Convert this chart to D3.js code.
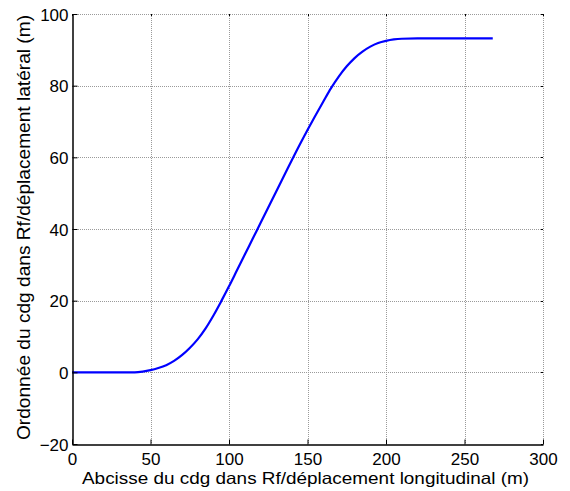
<!DOCTYPE html>
<html>
<head>
<meta charset="utf-8">
<script src="https://cdn.jsdelivr.net/npm/d3@7"></script>
<style>
  body { margin: 0; background: #fff; }
  svg { display: block; }
  text { font-family: "Liberation Sans", Arial, sans-serif; fill: #000; }
</style>
</head>
<body>
<svg id="chart" width="570" height="491"></svg>
<script>
const xData = [0, 10, 20, 30, 40, 45, 50, 55, 60, 65, 70, 75, 80, 85, 90, 95, 100, 105, 110, 115, 120, 130, 140, 150, 160, 165, 170, 175, 180, 185, 190, 195, 200, 205, 210, 220, 230, 240, 250, 260, 268];
const yData = [0, 0, 0, 0, 0, 0.2, 0.6, 1.2, 2, 3.2, 4.8, 6.8, 9.2, 12.2, 15.8, 19.8, 24, 28.4, 32.8, 37.2, 41.6, 50.4, 59.2, 67.6, 75.5, 79.3, 82.6, 85.4, 87.7, 89.5, 90.9, 91.9, 92.5, 92.9, 93.1, 93.2, 93.2, 93.2, 93.2, 93.2, 93.2];
const xTicks = [0, 50, 100, 150, 200, 250, 300];
const yTicks = [-20, 0, 20, 40, 60, 80, 100];
const xTitle = "Abcisse du cdg dans Rf/déplacement longitudinal (m)";
const yTitle = "Ordonnée du cdg dans Rf/déplacement latéral (m)";

const svg = d3.select("#chart");
const L = 72, R = 543, T = 14, B = 444;
const x = d3.scaleLinear().domain([0, 300]).range([L, R]);
const y = d3.scaleLinear().domain([-20, 100]).range([B, T]);

// grid
const grid = svg.append("g").attr("stroke", "#9a9a9a").attr("stroke-width", 1).attr("stroke-dasharray", "1,1");
xTicks.forEach(t => {
  if (t === 0) return;
  grid.append("line").attr("x1", Math.round(x(t)) + 0.5).attr("x2", Math.round(x(t)) + 0.5).attr("y1", T).attr("y2", B);
});
yTicks.forEach(t => {
  if (t === -20) return;
  grid.append("line").attr("x1", L).attr("x2", R).attr("y1", Math.round(y(t)) + 0.5).attr("y2", Math.round(y(t)) + 0.5);
});

// curve
const line = d3.line().x((d, i) => x(xData[i])).y(d => y(d)).curve(d3.curveMonotoneX);
svg.append("path").datum(yData).attr("d", line)
  .attr("fill", "none").attr("stroke", "#0000ff").attr("stroke-width", 2.2)
  .attr("stroke-linejoin", "round").attr("stroke-linecap", "butt");

// axes
const xAxis = d3.axisBottom(x).tickValues(xTicks).tickSizeInner(-5).tickSizeOuter(0).tickPadding(10);
const yAxis = d3.axisLeft(y).tickValues(yTicks).tickSizeInner(-5).tickSizeOuter(0).tickPadding(8);
const gx = svg.append("g").attr("transform", `translate(0,${B + 0.5})`).call(xAxis);
const gy = svg.append("g").attr("transform", `translate(${L + 0.5},0)`).call(yAxis);
[gx, gy].forEach(g => {
  g.select(".domain").attr("stroke", "#000").attr("stroke-width", 1.5);
  g.selectAll(".tick line").attr("stroke", "#000").attr("stroke-width", 1);
  g.selectAll(".tick text").attr("font-size", 17).attr("font-family", "Liberation Sans, Arial, sans-serif").attr("fill", "#000");
});
gx.selectAll(".tick text").attr("dy", null).attr("y", 20.5);
gy.selectAll(".tick text").attr("x", -4).attr("dy", "0.36em");

// small tick marks on top and right edges
const edge = svg.append("g").attr("stroke", "#000").attr("stroke-width", 1);
xTicks.forEach(t => {
  edge.append("line").attr("x1", Math.round(x(t)) + 0.5).attr("x2", Math.round(x(t)) + 0.5).attr("y1", T).attr("y2", T + 2);
});
yTicks.forEach(t => {
  edge.append("line").attr("x1", R - 2).attr("x2", R).attr("y1", Math.round(y(t)) + 0.5).attr("y2", Math.round(y(t)) + 0.5);
});

// titles
svg.append("text").attr("x", 82).attr("y", 483.5)
  .attr("font-size", 16.5).attr("textLength", 447).attr("lengthAdjust", "spacingAndGlyphs").text(xTitle);
svg.append("text").attr("transform", `translate(30,440) rotate(-90)`)
  .attr("font-size", 18).attr("textLength", 425).attr("lengthAdjust", "spacingAndGlyphs").text(yTitle);
</script>
</body>
</html>
